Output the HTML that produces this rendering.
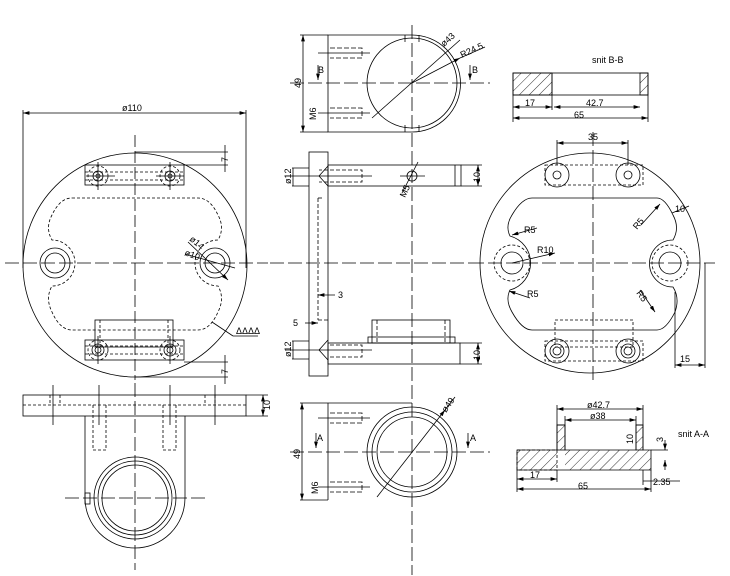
<!DOCTYPE html>
<html><head><meta charset="utf-8"><style>html,body{margin:0;padding:0;background:#fff}svg{display:block}text{font-family:"Liberation Sans",sans-serif;font-size:9px;fill:#000}</style></head><body>
<svg width="730" height="576" viewBox="0 0 730 576" xmlns="http://www.w3.org/2000/svg">
<defs><marker id="a" viewBox="0 0 10 6" refX="10" refY="3" markerWidth="8" markerHeight="5" orient="auto-start-reverse"><path d="M0,0L10,3L0,6z" fill="#000"/></marker>
<pattern id="h" width="7" height="7" patternUnits="userSpaceOnUse" patternTransform="rotate(45)"><line x1="0" y1="0" x2="0" y2="7" stroke="#000" stroke-width="0.8"/></pattern></defs>
<g fill="none" stroke="#000" stroke-width="0.8">
<!-- LEFT PLAN -->
<circle cx="135" cy="265" r="112"/>
<line x1="23" y1="113" x2="246" y2="113" marker-start="url(#a)" marker-end="url(#a)"/>
<line x1="23" y1="110" x2="23" y2="268"/><line x1="246" y1="110" x2="246" y2="268"/>
<line x1="135" y1="135" x2="135" y2="380" stroke-dasharray="12,4"/>
<line x1="5" y1="263" x2="268" y2="263" stroke-dasharray="14,4"/>
<rect x="85" y="165" width="99" height="20"/>
<line x1="135" y1="152" x2="228" y2="152"/><line x1="184" y1="165" x2="228" y2="165"/>
<line x1="225" y1="145" x2="225" y2="172"/>
<line x1="135" y1="377" x2="228" y2="377"/><line x1="184" y1="362" x2="228" y2="362"/>
<line x1="225" y1="355" x2="225" y2="384"/>
<g stroke-dasharray="3,2"><circle cx="98" cy="176" r="10"/><circle cx="170" cy="176" r="10"/><circle cx="98" cy="350" r="10"/><circle cx="170" cy="350" r="10"/>
<line x1="85" y1="172" x2="184" y2="172"/><line x1="85" y1="180" x2="184" y2="180"/>
<path d="M72,198 L198,198 Q210,198 218,215 Q225,228 218,240 A23,23 0 0 0 218,286 Q225,298 218,312 Q210,330 198,330 L72,330 Q60,330 52,312 Q45,298 52,286 A23,23 0 0 0 52,240 Q45,228 52,215 Q60,198 72,198 Z"/>
<line x1="85" y1="346" x2="184" y2="346"/><line x1="85" y1="354" x2="184" y2="354"/></g>
<circle cx="98" cy="176" r="5"/><circle cx="170" cy="176" r="5"/><circle cx="98" cy="176" r="2"/><circle cx="170" cy="176" r="2"/>
<circle cx="98" cy="350" r="6"/><circle cx="170" cy="350" r="6"/><circle cx="98" cy="350" r="3"/><circle cx="170" cy="350" r="3"/>
<line x1="98" y1="162" x2="98" y2="190"/><line x1="170" y1="162" x2="170" y2="190"/><line x1="86" y1="176" x2="115" y2="176"/><line x1="156" y1="176" x2="184" y2="176"/>
<line x1="98" y1="336" x2="98" y2="364"/><line x1="170" y1="336" x2="170" y2="364"/>
<rect x="85" y="340" width="99" height="20"/>
<rect x="95" y="320" width="78" height="27"/><line x1="100" y1="320" x2="100" y2="347" stroke-dasharray="3,2"/><line x1="168" y1="320" x2="168" y2="347" stroke-dasharray="3,2"/>
<circle cx="55" cy="263" r="15"/><circle cx="55" cy="263" r="10"/><circle cx="215" cy="263" r="15"/><circle cx="215" cy="263" r="10"/>
<line x1="188" y1="242" x2="228" y2="280" marker-end="url(#a)"/><line x1="185" y1="254" x2="235" y2="268"/>
<line x1="212" y1="322" x2="233" y2="336"/><line x1="233" y1="336" x2="258" y2="336"/>
<!-- LEFT BOTTOM -->
<rect x="23" y="395" width="223" height="21"/>
<line x1="246" y1="395" x2="268" y2="395"/><line x1="246" y1="416" x2="268" y2="416"/><line x1="263" y1="395" x2="263" y2="416" marker-start="url(#a)" marker-end="url(#a)"/>
<path d="M85,416 L85,498 A50,50 0 0 0 185,498 L185,416"/>
<circle cx="135" cy="498" r="41"/><circle cx="135" cy="498" r="37"/><circle cx="135" cy="498" r="33"/>
<rect x="85" y="493" width="5" height="11"/>
<line x1="65" y1="498" x2="205" y2="498" stroke-dasharray="14,4"/>
<line x1="135" y1="383" x2="135" y2="570" stroke-dasharray="14,4"/>
<g stroke-dasharray="3,2"><line x1="23" y1="405" x2="246" y2="405"/><path d="M93,405 V450 H106 V405"/><path d="M163,405 V450 H176 V405"/>
<line x1="50" y1="395" x2="50" y2="405"/><line x1="60" y1="395" x2="60" y2="405"/><line x1="205" y1="395" x2="205" y2="405"/><line x1="215" y1="395" x2="215" y2="405"/></g>
<line x1="53" y1="385" x2="53" y2="425"/><line x1="99" y1="385" x2="99" y2="425"/><line x1="170" y1="385" x2="170" y2="425"/><line x1="215" y1="385" x2="215" y2="425"/>
<!-- MIDDLE TOP -->
<path d="M328,35 L412,35 A48,48 0 0 1 412,132 L328,132 Z"/>
<line x1="405" y1="35" x2="405" y2="42"/><line x1="419" y1="35" x2="419" y2="42"/><line x1="405" y1="125" x2="405" y2="132"/><line x1="419" y1="125" x2="419" y2="132"/>
<circle cx="412" cy="83" r="45"/>
<line x1="300" y1="35" x2="328" y2="35"/><line x1="300" y1="132" x2="328" y2="132"/><line x1="303" y1="35" x2="303" y2="132" marker-start="url(#a)" marker-end="url(#a)"/>
<line x1="290" y1="83" x2="490" y2="83" stroke-dasharray="14,4"/>
<line x1="412" y1="25" x2="412" y2="575" stroke-dasharray="14,4"/>
<line x1="372" y1="118" x2="460" y2="40"/><line x1="412" y1="83" x2="460" y2="58" marker-end="url(#a)"/><line x1="460" y1="58" x2="485" y2="47"/>
<line x1="318" y1="65" x2="318" y2="80" marker-end="url(#a)"/><line x1="470" y1="65" x2="470" y2="80" marker-end="url(#a)"/>
<g stroke-dasharray="5,2"><path d="M330,48 H362 V58 H330"/><path d="M330,108 H362 V118 H330"/></g>
<line x1="318" y1="53" x2="370" y2="53"/><line x1="318" y1="113" x2="370" y2="113"/>
<!-- MIDDLE SIDE -->
<rect x="309" y="152" width="19" height="224"/>
<rect x="328" y="165" width="133" height="21"/><line x1="455" y1="165" x2="455" y2="186"/>
<rect x="328" y="343" width="132" height="21"/>
<rect x="372" y="320" width="78" height="23"/><rect x="368" y="337" width="87" height="6"/>
<circle cx="412" cy="176" r="5"/><line x1="400" y1="176" x2="425" y2="176"/>
<line x1="402" y1="193" x2="418" y2="162"/>
<line x1="461" y1="165" x2="482" y2="165"/><line x1="461" y1="186" x2="482" y2="186"/><line x1="478" y1="165" x2="478" y2="186" marker-start="url(#a)" marker-end="url(#a)"/>
<line x1="460" y1="343" x2="482" y2="343"/><line x1="460" y1="364" x2="482" y2="364"/><line x1="478" y1="343" x2="478" y2="364" marker-start="url(#a)" marker-end="url(#a)"/>
<line x1="292" y1="168" x2="309" y2="168"/><line x1="292" y1="186" x2="309" y2="186"/><line x1="293" y1="168" x2="293" y2="186"/>
<line x1="292" y1="341" x2="309" y2="341"/><line x1="292" y1="359" x2="309" y2="359"/><line x1="293" y1="341" x2="293" y2="359"/>
<line x1="285" y1="176" x2="372" y2="176"/><line x1="285" y1="350" x2="372" y2="350"/>
<g stroke-dasharray="4,2"><path d="M328,170 L319,170 M328,182 L319,182"/><path d="M330,170 H362 V182 H330"/><path d="M330,345 H362 V357 H330"/>
<line x1="318" y1="198" x2="318" y2="320"/><line x1="318" y1="198" x2="323" y2="198"/><line x1="318" y1="320" x2="328" y2="320"/>
<line x1="377" y1="320" x2="377" y2="343"/><line x1="445" y1="320" x2="445" y2="343"/></g>
<line x1="319" y1="176" x2="328" y2="166"/><line x1="319" y1="176" x2="328" y2="186"/>
<line x1="319" y1="350" x2="328" y2="340"/><line x1="319" y1="350" x2="328" y2="360"/>
<line x1="270" y1="263" x2="470" y2="263" stroke-dasharray="14,4"/>
<line x1="318" y1="295" x2="335" y2="295" marker-start="url(#a)"/><line x1="305" y1="323" x2="318" y2="323" marker-end="url(#a)"/>
<!-- MIDDLE BOTTOM -->
<line x1="328" y1="403" x2="328" y2="500"/><line x1="300" y1="403" x2="412" y2="403"/><line x1="300" y1="500" x2="328" y2="500"/>
<line x1="302" y1="403" x2="302" y2="500" marker-start="url(#a)" marker-end="url(#a)"/>
<circle cx="412" cy="452" r="45"/><circle cx="412" cy="452" r="40"/><circle cx="412" cy="452" r="35"/>
<line x1="290" y1="452" x2="490" y2="452" stroke-dasharray="14,4"/>
<line x1="377" y1="497" x2="445" y2="410" marker-end="url(#a)"/><line x1="445" y1="410" x2="455" y2="397"/>
<line x1="316" y1="433" x2="316" y2="448" marker-end="url(#a)"/><line x1="468" y1="433" x2="468" y2="448" marker-end="url(#a)"/>
<g stroke-dasharray="5,2"><path d="M330,413 H362 V423 H330"/><path d="M330,482 H362 V492 H330"/></g>
<line x1="318" y1="418" x2="370" y2="418"/><line x1="318" y1="487" x2="370" y2="487"/>
<!-- RIGHT PLAN -->
<circle cx="590" cy="263" r="110"/>
<line x1="470" y1="263" x2="715" y2="263" stroke-dasharray="14,4"/>
<line x1="593" y1="132" x2="593" y2="380" stroke-dasharray="14,4"/>
<g stroke-dasharray="3,2"><rect x="545" y="165" width="98" height="20"/><rect x="545" y="341" width="98" height="20"/><rect x="555" y="320" width="78" height="27"/>
<circle cx="512" cy="263" r="18"/><circle cx="670" cy="263" r="18"/></g>
<circle cx="557" cy="175" r="12"/><circle cx="628" cy="175" r="12"/><circle cx="557" cy="175" r="4"/><circle cx="628" cy="175" r="4"/>
<circle cx="557" cy="351" r="12"/><circle cx="628" cy="351" r="12"/><circle cx="557" cy="351" r="7"/><circle cx="628" cy="351" r="7"/><circle cx="557" cy="351" r="4"/><circle cx="628" cy="351" r="4"/>
<circle cx="512" cy="263" r="11"/><circle cx="670" cy="263" r="11"/>
<path d="M532,198 L657,198 Q665,198 673,215 Q680,228 673,240 A23,23 0 0 0 673,287 Q680,298 675,312 Q666,330 657,330 L532,330 Q522,330 512,312 Q505,300 510,290 A28,28 0 0 0 510,236 Q505,226 512,215 Q522,198 532,198 Z"/>
<line x1="557" y1="140" x2="557" y2="165"/><line x1="628" y1="140" x2="628" y2="165"/><line x1="557" y1="143" x2="628" y2="143" marker-start="url(#a)" marker-end="url(#a)"/>
<line x1="641" y1="225" x2="660" y2="204" marker-end="url(#a)"/><line x1="672" y1="213" x2="689" y2="206"/>
<line x1="675" y1="292" x2="675" y2="368"/><line x1="705" y1="263" x2="705" y2="368"/><line x1="675" y1="365" x2="705" y2="365" marker-start="url(#a)" marker-end="url(#a)"/>
<line x1="512" y1="235" x2="537" y2="228" marker-start="url(#a)"/><line x1="512" y1="263" x2="555" y2="253" marker-end="url(#a)"/>
<line x1="509" y1="291" x2="530" y2="298" marker-start="url(#a)"/><line x1="655" y1="312" x2="640" y2="290" marker-start="url(#a)"/>
<!-- B-B -->
<rect x="513" y="73" width="135" height="22"/><line x1="552" y1="73" x2="552" y2="95"/><rect x="513" y="73" width="39" height="22" fill="url(#h)"/><rect x="640" y="73" width="8" height="22" fill="url(#h)"/>
<line x1="513" y1="95" x2="513" y2="122"/><line x1="552" y1="95" x2="552" y2="110"/><line x1="648" y1="95" x2="648" y2="122"/>
<line x1="513" y1="107" x2="552" y2="107" marker-start="url(#a)" marker-end="url(#a)"/><line x1="554" y1="107" x2="640" y2="107" marker-start="url(#a)" marker-end="url(#a)"/>
<line x1="513" y1="118" x2="648" y2="118" marker-start="url(#a)" marker-end="url(#a)"/>
<!-- A-A -->
<path d="M517,450 H557 V425 H565 V450 H636 V425 H643 V450 H651 V470 H517 Z"/>
<rect x="565" y="450" width="86" height="20" fill="url(#h)" stroke="none"/><rect x="557" y="425" width="8" height="25" fill="url(#h)"/><rect x="636" y="425" width="7" height="25" fill="url(#h)"/>
<rect x="517" y="450" width="40" height="20" fill="url(#h)" stroke-dasharray="3,2"/>
<line x1="557" y1="405" x2="557" y2="425"/><line x1="643" y1="405" x2="643" y2="425"/><line x1="557" y1="409" x2="643" y2="409" marker-start="url(#a)" marker-end="url(#a)"/>
<line x1="565" y1="416" x2="565" y2="425"/><line x1="636" y1="416" x2="636" y2="425"/><line x1="565" y1="420" x2="636" y2="420" marker-start="url(#a)" marker-end="url(#a)"/>
<line x1="517" y1="470" x2="517" y2="492"/><line x1="651" y1="470" x2="651" y2="492"/><line x1="557" y1="470" x2="557" y2="482"/>
<line x1="517" y1="479" x2="557" y2="479" marker-start="url(#a)" marker-end="url(#a)"/><line x1="517" y1="489" x2="651" y2="489" marker-start="url(#a)" marker-end="url(#a)"/>
<line x1="651" y1="450" x2="668" y2="450"/><line x1="665" y1="440" x2="665" y2="450" marker-end="url(#a)"/><line x1="665" y1="470" x2="665" y2="460" marker-end="url(#a)"/>
<line x1="643" y1="470" x2="643" y2="485"/><line x1="643" y1="481" x2="680" y2="481"/>
</g>
<g>
<text x="122" y="111">ø110</text><text x="228" y="162" transform="rotate(-90 228 162)">7</text><text x="228" y="374" transform="rotate(-90 228 374)">7</text>
<text x="189" y="240" transform="rotate(40 189 240)">ø14</text><text x="184" y="255" transform="rotate(20 184 255)">ø10</text>
<text x="236" y="334">ΔΔΔΔ</text><text x="270" y="410" transform="rotate(-90 270 410)">10</text>
<text x="301" y="88" transform="rotate(-90 301 88)">49</text><text x="316" y="120" transform="rotate(-90 316 120)">M6</text>
<text x="318" y="73">B</text><text x="472" y="73">B</text>
<text x="444" y="47" transform="rotate(-42 444 47)">ø43</text><text x="462" y="58" transform="rotate(-25 462 58)">R24.5</text>
<text x="291" y="184" transform="rotate(-90 291 184)">ø12</text><text x="291" y="357" transform="rotate(-90 291 357)">ø12</text>
<text x="480" y="182" transform="rotate(-90 480 182)">10</text><text x="480" y="360" transform="rotate(-90 480 360)">10</text>
<text x="405" y="198" transform="rotate(-65 405 198)">M5</text><text x="338" y="298">3</text><text x="293" y="326">5</text>
<text x="300" y="459" transform="rotate(-90 300 459)">49</text><text x="318" y="494" transform="rotate(-90 318 494)">M6</text>
<text x="317" y="441">A</text><text x="470" y="441">A</text><text x="446" y="413" transform="rotate(-55 446 413)">ø49</text>
<text x="588" y="140">35</text><text x="675" y="212">10</text><text x="637" y="230" transform="rotate(-50 637 230)">R5</text>
<text x="680" y="362">15</text><text x="524" y="233">R5</text><text x="537" y="253">R10</text><text x="527" y="297">R5</text>
<text x="636" y="293" transform="rotate(55 636 293)">R5</text>
<text x="592" y="63">snit B-B</text><text x="525" y="106">17</text><text x="586" y="106">42.7</text><text x="574" y="118">65</text>
<text x="587" y="408">ø42.7</text><text x="590" y="419">ø38</text><text x="633" y="444" transform="rotate(-90 633 444)">10</text>
<text x="663" y="442" transform="rotate(-90 663 442)">3</text><text x="678" y="437">snit A-A</text>
<text x="530" y="478">17</text><text x="578" y="489">65</text><text x="653" y="485">2.35</text>
</g>
</svg>
</body></html>
